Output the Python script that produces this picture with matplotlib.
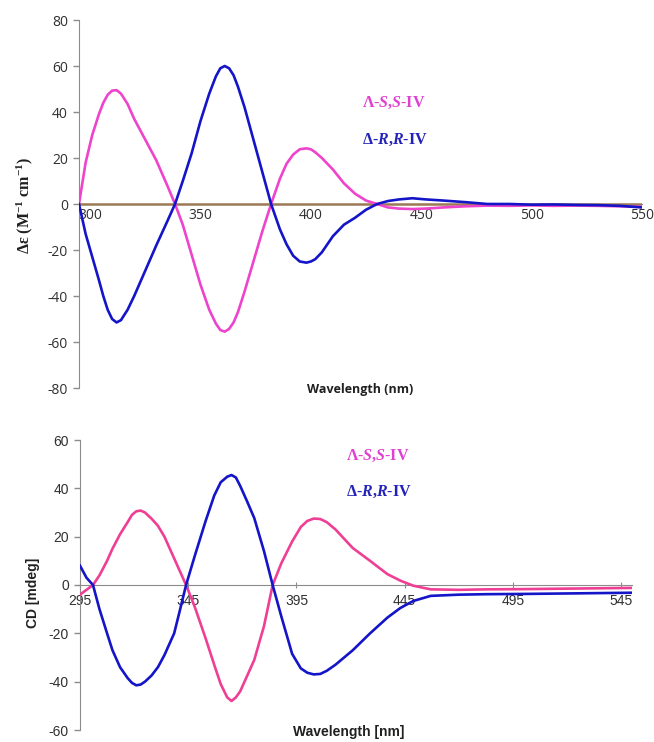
import numpy as np
import matplotlib
matplotlib.use("Agg")
import matplotlib.pyplot as plt

plt.rcParams['axes.unicode_minus'] = False
plt.rcParams['mathtext.fontset'] = 'custom'
plt.rcParams['mathtext.rm'] = 'Liberation Serif:bold'
plt.rcParams['mathtext.it'] = 'Liberation Serif:bold:italic'
plt.rcParams['mathtext.bf'] = 'Liberation Serif:bold'

# top panel: molar CD (M^-1 cm^-1)
wl_top = [295, 298, 301, 304, 306, 308, 310, 312, 314, 317,
          320, 325, 330, 335, 338.5, 342, 346, 350, 354, 357,
          359, 361, 363, 365, 367, 370, 374, 378, 382, 386,
          389, 392, 395, 398, 400, 402, 405, 410, 415, 420,
          425, 430, 435, 440, 446, 452, 460, 470, 480, 490,
          500, 510, 520, 530, 540, 550]
top_lambda_ss = [0, 18, 30, 39, 44, 47.5, 49.3, 49.5, 48, 43.5,
                 37, 28, 19, 8, 0, -9, -22, -35, -46, -52,
                 -54.8, -55.5, -54.3, -51.5, -47, -38, -25, -12, 0, 11,
                 17.5, 21.5, 23.8, 24.2, 23.8, 22.5, 20, 15, 9, 4.5,
                 1.5, 0, -1.5, -2, -2.2, -2, -1.5, -1, -0.7, -0.8,
                 -0.6, -0.8, -0.7, -0.8, -1.0, -1.2]
top_delta_rr = [0, -13, -23, -33, -40, -46, -50, -51.5, -50.5, -46,
                -40, -29, -18, -7.5, 0, 10, 22, 36, 48, 55.5,
                59, 60, 59, 56, 51, 42, 28, 14, 0, -11,
                -17.5, -22.5, -25, -25.5, -25, -24, -21, -14, -9, -6,
                -2.5, 0, 1.3, 2, 2.5, 2, 1.5, 0.8, 0, 0,
                -0.3, -0.2, -0.4, -0.5, -0.8, -1.5]
top_baseline = [0] * len(wl_top)

# bottom panel: CD (mdeg)
wl_bot = [295, 298, 301, 304, 307.5, 310, 313.5, 317, 319, 321,
          323, 325, 328, 331, 334, 338.5, 341, 344, 348, 353,
          357, 360, 363, 365, 367, 369, 372, 375.5, 380, 384,
          388, 393, 397, 400, 403, 406, 409, 413, 421, 429,
          437, 443, 449, 457, 470, 483, 500, 520, 540, 550]
bot_lambda_ss = [-4, -2, 0, 4, 10, 15, 21, 26, 29, 30.5,
                 30.8, 30, 27.5, 24.5, 20, 11, 6, 0, -9, -22,
                 -33, -41, -46.5, -48, -46.5, -44, -38, -31, -17, 0,
                 9, 18, 24, 26.5, 27.5, 27.3, 26, 23, 15.3, 10,
                 4.5, 1.8, -0.3, -1.8, -2, -1.8, -1.7, -1.5, -1.3, -1.2]
bot_delta_rr = [8, 3, 0, -10, -20, -27, -34, -38.5, -40.5, -41.5,
                -41.2, -40, -37.5, -34, -29, -20, -11, 0, 12, 26.4,
                37, 42.5, 44.8, 45.5, 44.5, 41, 35, 27.7, 14, 0,
                -13, -28.5, -34.5, -36.3, -37, -36.8, -35.5, -33, -27, -20,
                -13.5, -9.5, -6.6, -4.5, -4, -3.8, -3.7, -3.5, -3.3, -3.2]

top_ticks = [300, 350, 400, 450, 500, 550]
bot_ticks = [295, 345, 395, 445, 495, 545]

PINK_TOP = '#EE44CC'
PINK_BOT = '#EE3F95'
BLUE = '#1414C8'
GREY = '#8C8C8C'


def style_axis(ax, tick_font, tick_size):
    for s in ['top', 'right']:
        ax.spines[s].set_visible(False)
    ax.spines['left'].set_color(GREY)
    ax.spines['bottom'].set_color(GREY)
    ax.spines['bottom'].set_position(('data', 0))
    ax.tick_params(axis='y', colors=GREY, length=4, width=1, pad=4,
                   labelcolor='#303030')
    for lab in ax.get_xticklabels() + ax.get_yticklabels():
        lab.set_fontfamily(tick_font)
        lab.set_fontsize(tick_size)


def add_labels(fig, x, y_top, y_bot):
    fig.text(x / 654, 1 - y_top / 742, r'Λ-$\mathit{S}$,$\mathit{S}$-IV',
             color='#E040D0', fontsize=11.5, fontfamily='Liberation Serif',
             fontweight='bold', va='center', ha='left')
    fig.text(x / 654, 1 - y_bot / 742, r'Δ-$\mathit{R}$,$\mathit{R}$-IV',
             color='#2222BB', fontsize=11.5, fontfamily='Liberation Serif',
             fontweight='bold', va='center', ha='left')


def main():
    fig = plt.figure(figsize=(6.54, 7.42), dpi=100)

    # top panel
    ax1 = fig.add_axes([79 / 654, 1 - 388 / 742, 563 / 654, 368 / 742])
    ax1.plot(wl_top, top_baseline, color='#9C7A55', lw=1.8, zorder=2.8)
    ax1.plot(wl_top, top_lambda_ss, color=PINK_TOP, lw=1.9, zorder=3)
    ax1.plot(wl_top, top_delta_rr, color=BLUE, lw=1.9, zorder=3)
    ax1.set_xlim(295, 550)
    ax1.set_ylim(-80, 80)
    ax1.set_yticks(range(-80, 81, 20))
    ax1.set_xticks(top_ticks)
    style_axis(ax1, 'Open Sans', 10)
    ax1.tick_params(axis='x', length=0, pad=3, labelcolor='#303030')
    add_labels(fig, 362, 103, 140)
    fig.text(25 / 654, 1 - 205 / 742, r'Δε (M$^{-1}$ cm$^{-1}$)',
             rotation=90, fontsize=11.5, fontfamily='Liberation Serif',
             fontweight='bold', va='center', ha='center', color='#202020')
    fig.text(360 / 654, 1 - 390 / 742, 'Wavelength (nm)', fontsize=9,
             fontfamily='Open Sans', fontweight='bold', va='center',
             ha='center', color='#202020')

    # bottom panel
    ax2 = fig.add_axes([80 / 654, 1 - 730 / 742, 552 / 654, 290 / 742])
    ax2.plot(wl_bot, bot_lambda_ss, color=PINK_BOT, lw=1.9, zorder=3)
    ax2.plot(wl_bot, bot_delta_rr, color=BLUE, lw=1.9, zorder=3)
    ax2.set_xlim(295, 550)
    ax2.set_ylim(-60, 60)
    ax2.set_yticks(range(-60, 61, 20))
    ax2.set_xticks(bot_ticks)
    style_axis(ax2, 'Liberation Sans', 10)
    ax2.tick_params(axis='x', colors=GREY, direction='inout', length=5,
                    pad=4, labelcolor='#303030')
    add_labels(fig, 346, 456, 492)
    fig.text(33 / 654, 1 - 593 / 742, 'CD [mdeg]', rotation=90, fontsize=10,
             fontfamily='Liberation Sans', fontweight='bold', va='center',
             ha='center', color='#202020')
    fig.text(349 / 654, 1 - 732 / 742, 'Wavelength [nm]', fontsize=10,
             fontfamily='Liberation Sans', fontweight='bold', va='center',
             ha='center', color='#202020')

    fig.savefig('out.png', dpi=100)


if __name__ == "__main__":
    main()
